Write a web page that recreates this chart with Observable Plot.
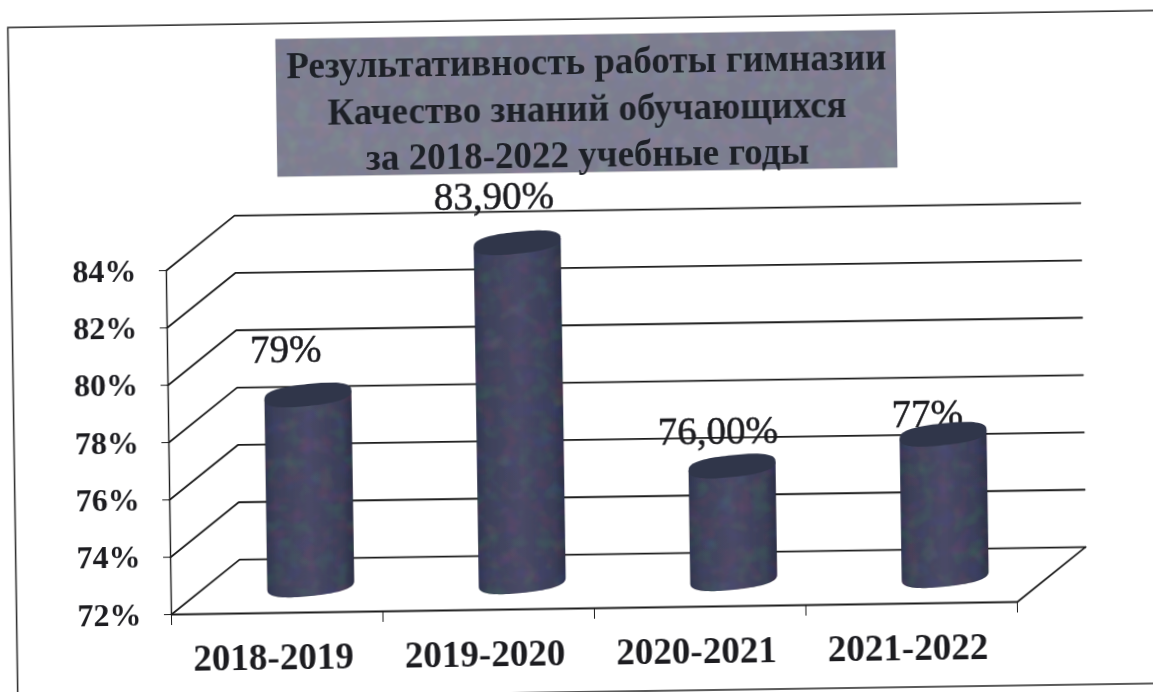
<!DOCTYPE html>
<html lang="ru">
<head>
<meta charset="utf-8">
<script src="https://cdn.jsdelivr.net/npm/d3@7"></script>
<script src="https://cdn.jsdelivr.net/npm/@observablehq/plot@0.6"></script>
<style>
html,body{margin:0;padding:0;background:#fff;overflow:hidden;width:1153px;height:692px}
svg{display:block;overflow:visible;transform:rotate(-0.85deg);transform-origin:576px 346px;filter:blur(.5px)}
</style>
</head>
<body>
<div id="chart"></div>
<script>
// --- data ---
const categories = ["2018-2019", "2019-2020", "2020-2021", "2021-2022"];
const values = [78.7, 83.9, 76, 77];
const valueLabels = ["79%", "83,90%", "76,00%", "77%"];
const yTicks = [72, 74, 76, 78, 80, 82, 84];
const titleLines = ["Результативность работы гимназии", "Качество знаний обучающихся", "за 2018-2022 учебные годы"];

// --- layout of the pseudo-3D box, in data units ---
const depthX = 0.326, depthY = 1.88;
const barOffsetX = 0.163, barHalf = 0.2057, barBase = 72.94, barTopShift = 0.87;
const ellipseRy = 0.38, ellipseTilt = 0.135, ellipsePower = 2.6;
const labelOffsets = [[-22, -46], [-23, -47], [-14, -35], [-16, -21]];
const font = "'Liberation Serif','Times New Roman',serif";

const steps = d3.range(41).map(k => -Math.cos(k * Math.PI / 40));
const bars = categories.flatMap((c, i) => steps.map(t => {
  const s = Math.pow(Math.max(0, 1 - Math.pow(Math.abs(t), ellipsePower)), 1 / ellipsePower);
  const top = values[i] + barTopShift;
  const cx = i + 0.5 + barOffsetX;
  return {
    bar: c,
    px: cx + t * barHalf,
    bodyHi: top + ellipseTilt * t,
    bodyLo: barBase + ellipseTilt * t - ellipseRy * s,
    capHi: top + ellipseTilt * t + ellipseRy * s,
    capLo: top + ellipseTilt * t - ellipseRy * s
  };
}));

const wall = yTicks.flatMap(v => [
  {v, px: 0, py: v},
  {v, px: depthX, py: v + depthY},
  {v, px: 4 + depthX, py: v + depthY}
]);
const floorEdge = [
  {px: 0, py: 72}, {px: 4, py: 72}, {px: 4 + depthX, py: 72 + depthY}
];
const axisLine = [{px: 0, py: 72}, {px: 0, py: 84}];

const plot = Plot.plot({
  width: 1153, height: 692,
  marginLeft: 167, marginRight: 140, marginTop: 264, marginBottom: 84,
  style: {background: "transparent", fontFamily: font, color: "#1c1c20"},
  x: {domain: [0, 4], axis: null},
  y: {domain: [72, 84], axis: null},
  marks: [
    // page frame
    Plot.rect([0], {x1: [-0.73], x2: [5], y1: [69.07], y2: [92.54], fill: "none", stroke: "#333", strokeWidth: 1.6}),
    // title box
    Plot.rect([0], {x1: [0.534], x2: [3.466], y1: [87.2], y2: [92.0], fill: "#7c7d8f"}),
    ...titleLines.map((line, i) => Plot.text([line], {
      x: [2.0], y: [91.05 - i * 1.62], text: d => d,
      fontSize: 37, fontWeight: "bold", fill: "#1d2027", lineAnchor: "middle", textAnchor: "middle"
    })),
    // walls
    Plot.line(wall, {x: "px", y: "py", z: "v", stroke: "#1c1c1c", strokeWidth: 1.8}),
    Plot.line(floorEdge, {x: "px", y: "py", stroke: "#1c1c1c", strokeWidth: 1.8}),
    Plot.line(axisLine, {x: "px", y: "py", stroke: "#1c1c1c", strokeWidth: 1.4}),
    // axes
    Plot.axisY({ticks: yTicks, tickFormat: d => d + "%", tickSize: 7, tickPadding: 23, label: null,
      fontSize: 32, fontWeight: "bold", stroke: "#1c1c1c", fill: "#1c1c20"}),
    Plot.axisX({ticks: [0, 1, 2, 3, 4], tickFormat: () => "", tickSize: 11, label: null, stroke: "#1c1c1c"}),
    Plot.text(categories, {
      x: (d, i) => i + 0.5 - 0.02, y: () => 72, text: d => d, dy: 45,
      fontSize: 37, fontWeight: "bold", fill: "#1c1c20"
    }),
    // value labels (the cylinders pass in front of them)
    ...valueLabels.map((label, i) => Plot.text([label], {
      x: [i + 0.5 + barOffsetX], y: [values[i] + barTopShift], text: d => d,
      dx: labelOffsets[i][0], dy: labelOffsets[i][1],
      fontSize: 39, fill: "#1c1c20", stroke: "#1c1c20", strokeWidth: 0.5
    })),
    // cylinders
    Plot.areaY(bars, {x: "px", y1: "bodyLo", y2: "bodyHi", z: "bar", fill: "url(#cyl)"}),
    Plot.areaY(bars, {x: "px", y1: "capLo", y2: "capHi", z: "bar", fill: "#30364a"})
  ]
});

// gradient and scan-grain definitions used by the marks above
const svg = d3.select(plot);
const defs = svg.insert("defs", ":first-child");
const grad = defs.append("linearGradient").attr("id", "cyl");
[[0, "#30364f"], [0.12, "#3d4159"], [0.5, "#494966"], [0.88, "#3a3e57"], [1, "#2c3046"]]
  .forEach(([o, c]) => grad.append("stop").attr("offset", o).attr("stop-color", c));
const grain = (id, freq, amount) => {
  const f = defs.append("filter").attr("id", id).attr("x", 0).attr("y", 0).attr("width", 1).attr("height", 1);
  f.append("feTurbulence").attr("type", "fractalNoise").attr("baseFrequency", freq).attr("numOctaves", 2).attr("seed", 4).attr("result", "n");
  f.append("feColorMatrix").attr("in", "n").attr("type", "matrix")
    .attr("values", `${amount} 0 0 0 ${-amount / 2}  0 ${amount} 0 0 ${-amount / 2}  0 0 ${amount} 0 ${-amount / 2}  0 0 0 0 1`).attr("result", "c");
  f.append("feComposite").attr("in", "SourceGraphic").attr("in2", "c").attr("operator", "arithmetic")
    .attr("k1", 0).attr("k2", 1).attr("k3", 0.9).attr("k4", 0).attr("result", "m");
  f.append("feComposite").attr("in", "m").attr("in2", "SourceAlpha").attr("operator", "in");
};
grain("grainBox", 0.06, 0.16);
grain("grainCyl", 0.06, 0.1);
svg.selectAll('g[fill="#7c7d8f"]').attr("filter", "url(#grainBox)");
svg.selectAll('g[fill="url(#cyl)"] path').attr("filter", "url(#grainCyl)");
document.getElementById("chart").append(plot);
</script>
</body>
</html>
